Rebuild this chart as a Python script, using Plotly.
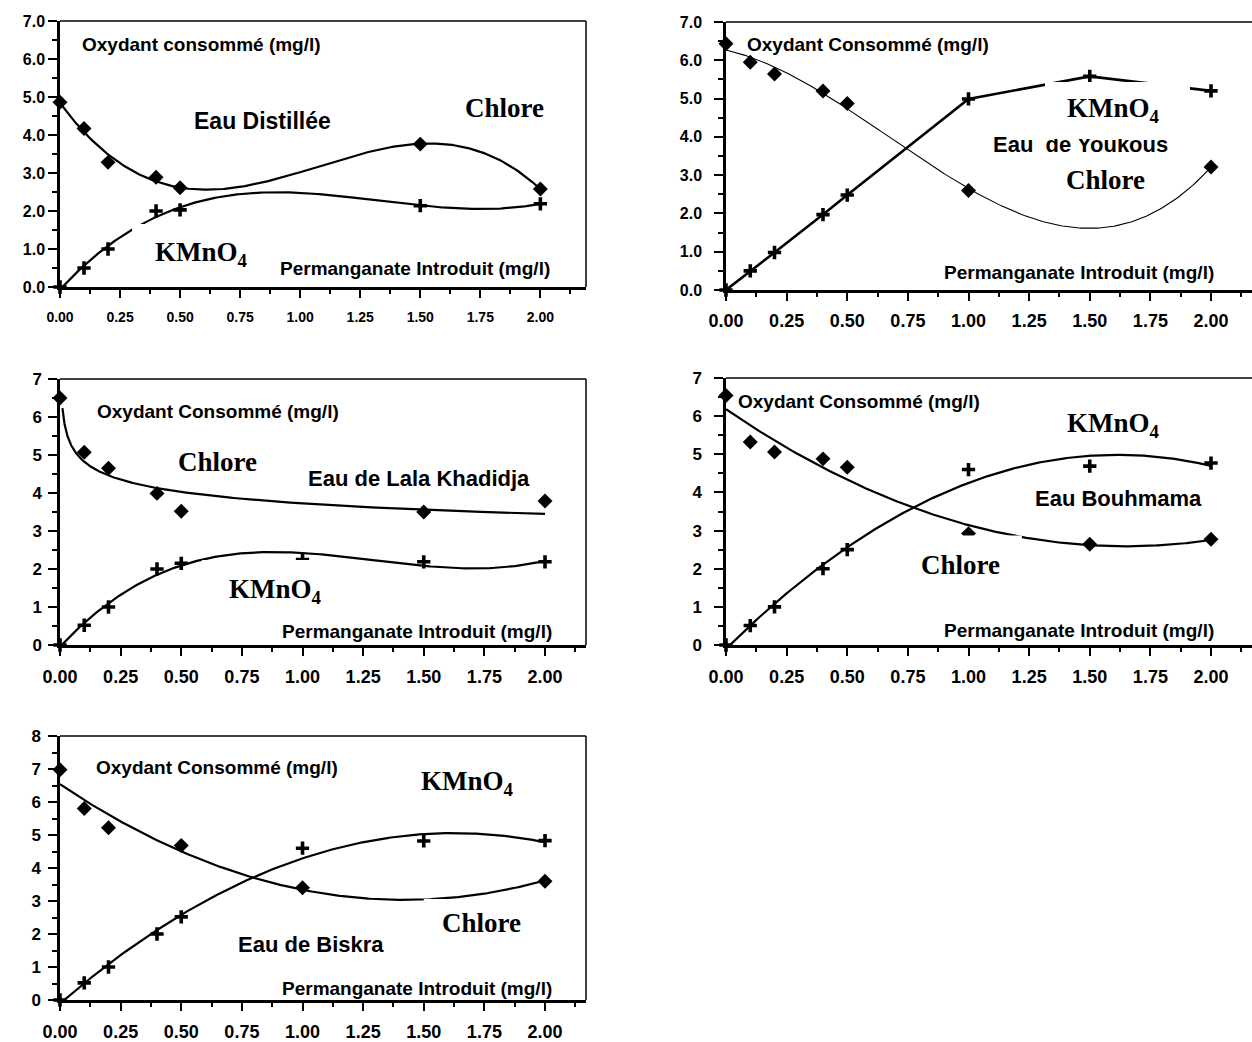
import numpy as np
import plotly.graph_objects as go

W, H = 1252, 1042

# ---- data: oxidant consumed (mg/l) vs permanganate introduced (mg/l) ----
# Eau Distillée
dist_chlore_x = [0, 0.1, 0.2, 0.4, 0.5, 1.5, 2.0]
dist_chlore_y = [4.86, 4.17, 3.28, 2.89, 2.61, 3.76, 2.58]
dist_kmno4_x = [0, 0.1, 0.2, 0.4, 0.5, 1.5, 2.0]
dist_kmno4_y = [0.0, 0.5, 1.0, 2.0, 2.03, 2.14, 2.19]

# Eau de Youkous
youk_chlore_x = [0, 0.1, 0.2, 0.4, 0.5, 1.0, 2.0]
youk_chlore_y = [6.43, 5.95, 5.64, 5.2, 4.87, 2.6, 3.21]
youk_kmno4_x = [0, 0.1, 0.2, 0.4, 0.5, 1.0, 1.5, 2.0]
youk_kmno4_y = [0.0, 0.5, 0.98, 1.97, 2.48, 4.99, 5.58, 5.2]

# Eau de Lala Khadidja
lala_chlore_x = [0, 0.1, 0.2, 0.4, 0.5, 1.5, 2.0]
lala_chlore_y = [6.5, 5.07, 4.65, 3.99, 3.52, 3.5, 3.79]
lala_kmno4_x = [0, 0.1, 0.2, 0.4, 0.5, 1.0, 1.5, 2.0]
lala_kmno4_y = [0.0, 0.52, 1.0, 2.0, 2.15, 2.25, 2.19, 2.19]

# Eau Bouhmama
bouh_chlore_x = [0, 0.1, 0.2, 0.4, 0.5, 1.0, 1.5, 2.0]
bouh_chlore_y = [6.54, 5.32, 5.06, 4.88, 4.66, 2.92, 2.64, 2.77]
bouh_kmno4_x = [0, 0.1, 0.2, 0.4, 0.5, 1.0, 1.5, 2.0]
bouh_kmno4_y = [0.0, 0.51, 1.0, 2.0, 2.5, 4.6, 4.69, 4.77]

# Eau de Biskra
bisk_chlore_x = [0, 0.1, 0.2, 0.5, 1.0, 2.0]
bisk_chlore_y = [6.98, 5.8, 5.22, 4.68, 3.4, 3.6]
bisk_kmno4_x = [0, 0.1, 0.2, 0.4, 0.5, 1.0, 1.5, 2.0]
bisk_kmno4_y = [0.0, 0.52, 1.0, 2.0, 2.52, 4.6, 4.82, 4.83]

SANS = "Liberation Sans, Arial, sans-serif"
SERIF = "Liberation Serif, Times New Roman, serif"


def poly_trend(x, y, deg, n=240):
    coef = np.polyfit(x, y, deg)
    xs = np.linspace(min(x), max(x), n)
    return xs, np.polyval(coef, xs)


def power_trend(x, y, start=0.01, n=300):
    x = np.asarray(x, float)
    y = np.asarray(y, float)
    keep = x > 0
    b, ln_a = np.polyfit(np.log(x[keep]), np.log(y[keep]), 1)
    xs = np.geomspace(start, x.max(), n)
    return xs, np.exp(ln_a) * xs ** b


def px_domain_x(left, right):
    return [left / W, min(right / W, 1.0)]


def px_domain_y(top, bottom):
    return [1 - bottom / H, 1 - top / H]


fig = go.Figure()

# panel geometry (pixels) and axis ranges
panels = [
    dict(k="", xd=(60, 586), yd=(21, 287), xr=2.19, yr=7, yfmt=".1f",
         xfont=14, yfont=16, xstand=7, ystand=0, right=True),
    dict(k="2", xd=(726, 1252), yd=(22, 290), xr=2.169, yr=7, yfmt=".1f",
         xfont=18, yfont=16, xstand=5, ystand=9, right=False),
    dict(k="3", xd=(60, 586), yd=(379, 645), xr=2.169, yr=7, yfmt="d",
         xfont=18, yfont=17, xstand=6, ystand=3, right=True),
    dict(k="4", xd=(726, 1252), yd=(378, 645), xr=2.169, yr=7, yfmt="d",
         xfont=18, yfont=17, xstand=6, ystand=9, right=False),
    dict(k="5", xd=(60, 586), yd=(736, 1000), xr=2.169, yr=8, yfmt="d",
         xfont=18, yfont=17, xstand=6, ystand=4, right=True),
]

shapes = []
for p in panels:
    k = p["k"]
    xa = dict(
        domain=px_domain_x(*p["xd"]), range=[0, p["xr"]], anchor="y" + k,
        automargin=False,
        showline=True, linecolor="black", linewidth=2.5, showgrid=False,
        zeroline=False, ticks="outside", ticklen=8, tickwidth=2,
        tickcolor="black", dtick=0.25, tick0=0, tickformat=".2f",
        tickprefix="<b>", ticksuffix="</b>",
        ticklabelstandoff=p["xstand"],
        tickfont=dict(family=SANS, size=p["xfont"], color="black"),
        minor=dict(dtick=0.125, tick0=0, ticks="outside", ticklen=4,
                   tickwidth=2, tickcolor="black", showgrid=False),
        fixedrange=True,
    )
    ya = dict(
        domain=px_domain_y(*p["yd"]), range=[0, p["yr"]], anchor="x" + k,
        automargin=False,
        showline=True, linecolor="black", linewidth=2.5, showgrid=False,
        zeroline=False, ticks="outside", ticklen=9, tickwidth=2,
        tickcolor="black", dtick=1, tick0=0, tickformat=p["yfmt"],
        tickprefix="<b>", ticksuffix="</b>",
        ticklabelstandoff=p["ystand"],
        tickfont=dict(family=SANS, size=p["yfont"], color="black"),
        minor=dict(dtick=0.5, tick0=0, ticks="outside", ticklen=5,
                   tickwidth=2, tickcolor="black", showgrid=False),
        fixedrange=True,
    )
    fig.update_layout(**{"xaxis" + k: xa, "yaxis" + k: ya})
    # thin top frame line (and right frame line where the box is closed)
    shapes.append(dict(type="line", xref="x%s domain" % k, yref="y%s domain" % k,
                       x0=0, x1=1, y0=1, y1=1, line=dict(color="black", width=1.5)))
    if p["right"]:
        shapes.append(dict(type="line", xref="x%s domain" % k, yref="y%s domain" % k,
                           x0=1, x1=1, y0=0, y1=1, line=dict(color="black", width=1.5)))


def add_points(k, x, y, symbol):
    if symbol == "diamond":
        marker = dict(symbol="diamond", size=11.5, color="black", line=dict(width=0))
    else:
        marker = dict(symbol="cross-thin", size=9.5, color="black",
                      line=dict(width=3.6, color="black"))
    fig.add_trace(go.Scatter(x=x, y=y, mode="markers", marker=marker,
                             xaxis="x" + k, yaxis="y" + k, cliponaxis=False,
                             showlegend=False, hoverinfo="skip"))


def add_curve(k, xs, ys, width=2.2):
    fig.add_trace(go.Scatter(x=xs, y=ys, mode="lines",
                             line=dict(color="black", width=width),
                             xaxis="x" + k, yaxis="y" + k, cliponaxis=False,
                             showlegend=False, hoverinfo="skip"))


# Eau Distillée
add_curve("", *poly_trend(dist_chlore_x, dist_chlore_y, 3))
add_curve("", *poly_trend(dist_kmno4_x, dist_kmno4_y, 3))
add_points("", dist_chlore_x, dist_chlore_y, "diamond")
add_points("", dist_kmno4_x, dist_kmno4_y, "cross")

# Eau de Youkous
add_curve("2", *poly_trend(youk_chlore_x, youk_chlore_y, 3), width=1.1)
add_curve("2", youk_kmno4_x, youk_kmno4_y, width=2.6)
add_points("2", youk_chlore_x, youk_chlore_y, "diamond")
add_points("2", youk_kmno4_x, youk_kmno4_y, "cross")

# Eau de Lala Khadidja
add_curve("3", *power_trend(lala_chlore_x, lala_chlore_y))
add_curve("3", *poly_trend(lala_kmno4_x, lala_kmno4_y, 3))
add_points("3", lala_chlore_x, lala_chlore_y, "diamond")
add_points("3", lala_kmno4_x, lala_kmno4_y, "cross")

# Eau Bouhmama
add_curve("4", *poly_trend(bouh_chlore_x, bouh_chlore_y, 2))
add_curve("4", *poly_trend(bouh_kmno4_x, bouh_kmno4_y, 2))
add_points("4", bouh_chlore_x, bouh_chlore_y, "diamond")
add_points("4", bouh_kmno4_x, bouh_kmno4_y, "cross")

# Eau de Biskra
add_curve("5", *poly_trend(bisk_chlore_x, bisk_chlore_y, 2))
add_curve("5", *poly_trend(bisk_kmno4_x, bisk_kmno4_y, 2))
add_points("5", bisk_chlore_x, bisk_chlore_y, "diamond")
add_points("5", bisk_kmno4_x, bisk_kmno4_y, "cross")

# white label boxes sitting over the curves
label_boxes = [
    ("", 0.30, 0.93, 0.2, 1.66),
    ("3", 0.585, 1.20, 0.9, 2.237),
    ("4", 0.726, 1.22, 1.6, 2.87),
    ("5", 1.50, 2.02, 2.0, 3.06),
]
for k, x0, x1, y0, y1 in label_boxes:
    shapes.append(dict(type="rect", xref="x" + k, yref="y" + k, x0=x0, x1=x1,
                       y0=y0, y1=y1, fillcolor="white", line=dict(width=0),
                       layer="above"))


annotations = []


def label(k, text, x, y, anchor="center", serif=False, size=None):
    if serif:
        font = dict(family=SERIF, size=size or 27, color="black")
    else:
        font = dict(family=SANS, size=size or 19, color="black")
    annotations.append(dict(xref="x" + k, yref="y" + k, x=x, y=y,
                            text="<b>%s</b>" % text,
                            showarrow=False, xanchor=anchor, yanchor="middle",
                            font=font))


def blank_box(k, x, y, width, height):
    # white text-box background that sits over the curve and the label below it
    annotations.append(dict(xref="x" + k, yref="y" + k, x=x, y=y, text=" ",
                            showarrow=False, xanchor="left", yanchor="top",
                            width=width, height=height, bgcolor="white",
                            borderpad=0, borderwidth=0,
                            font=dict(family=SANS, size=10, color="white")))


KMNO4 = "KMnO<sub>4</sub>"

# Eau Distillée
label("", "Oxydant consommé (mg/l)", 0.083, 6.39, "left")
label("", "Eau Distillée", 0.844, 4.37, size=23)
label("", "Chlore", 1.852, 4.71, serif=True)
label("", KMNO4, 0.3875, 0.88, "left", serif=True)
label("", "Permanganate Introduit (mg/l)", 2.05, 0.5, "right")

# Eau de Youkous
label("2", "Oxydant Consommé (mg/l)", 0.078, 6.42, "left")
label("2", "Eau  de Youkous", 1.46, 3.79, size=22)
blank_box("2", 1.315, 5.43, 145, 57)
label("2", KMNO4, 1.398, 4.70, "left", serif=True)
label("2", "Chlore", 1.563, 2.87, serif=True)
label("2", "Permanganate Introduit (mg/l)", 2.02, 0.47, "right")

# Eau de Lala Khadidja
label("3", "Oxydant Consommé (mg/l)", 0.144, 6.14, "left")
label("3", "Chlore", 0.65, 4.82, serif=True)
label("3", "Eau de Lala Khadidja", 1.014, 4.39, "left", size=22)
label("3", KMNO4, 0.689, 1.42, "left", serif=True)
label("3", "Permanganate Introduit (mg/l)", 2.037, 0.35, "right")

# Eau Bouhmama
label("4", "Oxydant Consommé (mg/l)", 0.041, 6.38, "left")
label("4", KMNO4, 1.398, 5.78, "left", serif=True)
label("4", "Eau Bouhmama", 1.62, 3.83, size=22)
label("4", "Chlore", 0.965, 2.10, serif=True)
label("4", "Permanganate Introduit (mg/l)", 2.02, 0.375, "right")

# Eau de Biskra
label("5", "Oxydant Consommé (mg/l)", 0.14, 7.06, "left")
label("5", KMNO4, 1.48, 6.58, "left", serif=True)
label("5", "Chlore", 1.738, 2.33, serif=True)
label("5", "Eau de Biskra", 1.037, 1.67, size=22)
label("5", "Permanganate Introduit (mg/l)", 2.037, 0.36, "right")

fig.update_layout(
    width=W, height=H, margin=dict(l=0, r=0, t=0, b=0),
    paper_bgcolor="white", plot_bgcolor="white",
    showlegend=False, shapes=shapes, annotations=annotations,
)

fig.write_html("out.html", config={"displayModeBar": False})
